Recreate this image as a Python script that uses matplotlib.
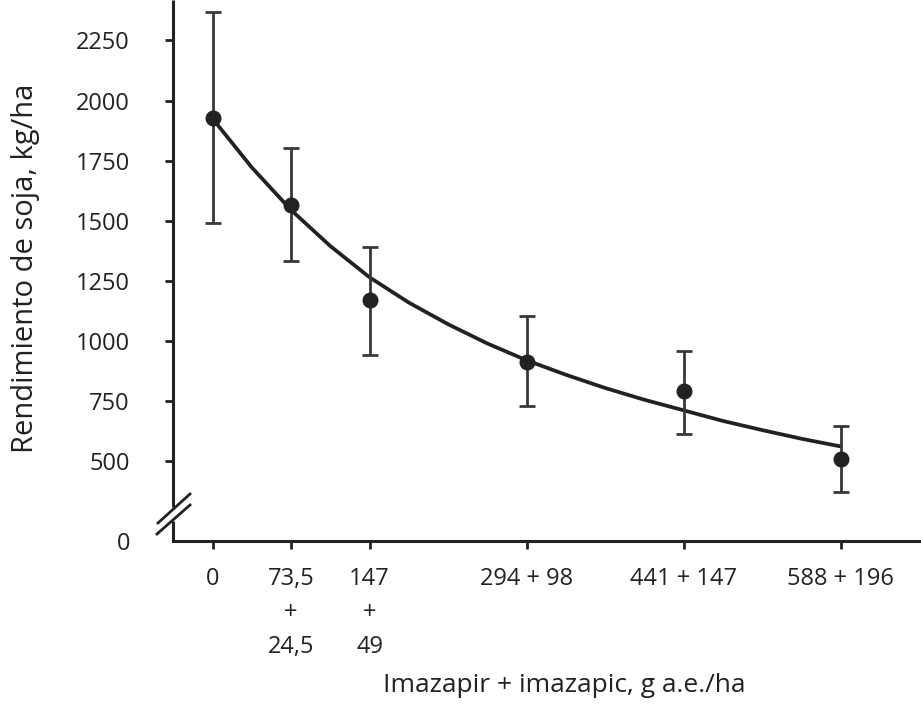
import matplotlib
matplotlib.use("Agg")
import matplotlib.pyplot as plt
from matplotlib.lines import Line2D
import numpy as np

# ---- data ----
imazapir = [0, 73.5, 147, 294, 441, 588]
imazapic = [0, 24.5, 49, 98, 147, 196]
tick_labels = ["0", "73,5\n+\n24,5", "147\n+\n49", "294 + 98", "441 + 147", "588 + 196"]
yield_mean = [1929, 1567, 1171, 915, 791, 510]
err_upper = [2370, 1804, 1392, 1106, 957, 646]
err_lower = [1492, 1333, 944, 732, 612, 371]
curve_dose = [0, 49, 98, 147, 196, 245, 294, 343, 392, 441, 490, 539, 588, 637, 686, 735, 784]
curve_yield = [1925, 1722, 1545, 1395, 1265, 1160, 1070, 990, 920, 860, 805, 756, 712, 668, 630, 594, 562]
ytick_vals = [500, 750, 1000, 1250, 1500, 1750, 2000, 2250]

dose_total = [a + b for a, b in zip(imazapir, imazapic)]

plt.rcParams['font.family'] = ['Open Sans', 'DejaVu Sans']
W, H = 921, 726
fig = plt.figure(figsize=(W / 100, H / 100), dpi=100)
ax = fig.add_axes([173 / W, (H - 541) / H, (W - 173) / W, 541 / H])

dark = "#222222"
ymin, ymax = 169, 2418
ax.set_xlim(-49.3, 884)
ax.set_ylim(ymin, ymax)

ax.plot(curve_dose, curve_yield, color=dark, lw=2.7, solid_capstyle='round',
        solid_joinstyle='round', zorder=2)
yerr = [np.array(yield_mean) - np.array(err_lower), np.array(err_upper) - np.array(yield_mean)]
ax.errorbar(dose_total, yield_mean, yerr=yerr, fmt='o', color=dark, ecolor="#383838",
            elinewidth=2.0, capsize=6, capthick=2.0, markersize=10.5, zorder=3, clip_on=False)

for s in ['top', 'right', 'left']:
    ax.spines[s].set_visible(False)
ax.spines['bottom'].set_linewidth(2.2)
ax.spines['bottom'].set_color(dark)

# y axis with a break
axh = 541.0
ax.plot([0, 0], [1.0, (541 - 507) / axh], transform=ax.transAxes, color=dark, lw=2.2,
        clip_on=False, solid_capstyle='butt')
ax.plot([0, 0], [(541 - 521) / axh, 0], transform=ax.transAxes, color=dark, lw=2.2,
        clip_on=False, solid_capstyle='butt')
for (x0, y0, x1, y1) in [(158, 523, 190, 494), (157, 534, 190, 505)]:
    fig.add_artist(Line2D([x0 / W, x1 / W], [1 - y0 / H, 1 - y1 / H], color=dark, lw=2.0))

ax.set_yticks([ymin] + ytick_vals)
ax.set_yticklabels(["0"] + [str(v) for v in ytick_vals])
ax.tick_params(axis='y', length=6, width=2.0, color=dark, pad=25, labelsize=17, labelcolor=dark)
ax.yaxis.get_major_ticks()[0].tick1line.set_visible(False)

ax.set_xticks(dose_total)
ax.set_xticklabels(tick_labels, linespacing=1.55, va='top')
ax.tick_params(axis='x', length=6, width=2.0, color=dark, pad=13, labelsize=17, labelcolor=dark)

fig.text(26 / W, 1 - 268 / H, "Rendimiento de soja, kg/ha", rotation=90, ha='center', va='center',
         fontsize=21, color=dark)
fig.text(564 / W, 1 - 686 / H, "Imazapir + imazapic, g a.e./ha", ha='center', va='center',
         fontsize=19, color=dark)

fig.savefig("out.png", dpi=100)
